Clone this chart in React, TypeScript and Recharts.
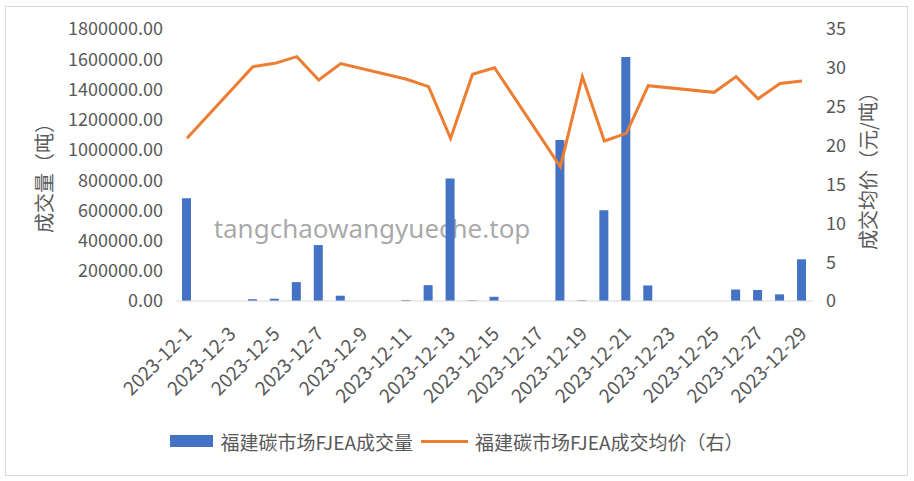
import React from 'react';
import { ComposedChart, Bar, Line, XAxis, YAxis, Legend } from 'recharts';

const dates = [
  '2023-12-1','2023-12-2','2023-12-3','2023-12-4','2023-12-5','2023-12-6','2023-12-7','2023-12-8','2023-12-9','2023-12-10',
  '2023-12-11','2023-12-12','2023-12-13','2023-12-14','2023-12-15','2023-12-16','2023-12-17','2023-12-18','2023-12-19','2023-12-20',
  '2023-12-21','2023-12-22','2023-12-23','2023-12-24','2023-12-25','2023-12-26','2023-12-27','2023-12-28','2023-12-29',
];
const volumes: (number | null)[] = [
  680000, null, null, 12000, 15000, 125000, 370000, 35000, null, null,
  6000, 105000, 810000, 4000, 28000, null, null, 1065000, 5000, 600000,
  1615000, 103000, null, null, null, 76000, 73000, 44000, 276000,
];
const prices: (number | null)[] = [
  20.94, null, null, 30.15, 30.58, 31.44, 28.44, 30.54, null, null,
  28.53, 27.58, 20.94, 29.17, 30.02, null, null, 17.28, 28.87, 20.59,
  21.57, 27.71, null, null, 26.85, 28.87, 26.03, 28.0, 28.31,
];
const leftTicks = [0, 200000, 400000, 600000, 800000, 1000000, 1200000, 1400000, 1600000, 1800000];
const rightTicks = [0, 5, 10, 15, 20, 25, 30, 35];
const volumeName = '福建碳市场FJEA成交量';
const priceName = '福建碳市场FJEA成交均价（右）';
const leftLabel = '成交量（吨）';
const rightLabel = '成交均价（元/吨）';
const watermark = 'tangchaowangyueche.top';

const data = dates.map((d, i) => ({ date: d, volume: volumes[i], price: prices[i] }));

const FONT = '"Noto Sans CJK SC", "Noto Sans", sans-serif';
const TEXT = '#595959';

const XTick = (props: any) => {
  const { x, y, payload } = props;
  return (
    <g transform={`translate(${x + 6},${y + 26})`}>
      <text x={0} y={0} textAnchor="end" transform="rotate(-45)" fill={TEXT} fontSize={19} fontFamily={FONT}>
        {payload.value}
      </text>
    </g>
  );
};

const LegendContent = () => (
  <div style={{ display: 'flex', justifyContent: 'center', alignItems: 'center', height: 30, fontFamily: FONT, fontSize: 19, color: TEXT, paddingRight: 1 }}>
    <span style={{ display: 'inline-block', width: 43, height: 12, background: '#4472C4', marginRight: 8 }} />
    <span style={{ marginRight: 8 }}>{volumeName}</span>
    <span style={{ display: 'inline-block', width: 47, height: 3, background: '#ED7D31', marginRight: 7 }} />
    <span>{priceName}</span>
  </div>
);

export default function App() {
  return (
    <div style={{ position: 'absolute', left: 0, top: 0, width: 914, height: 481, background: '#fff' }}>
      <div style={{ position: 'absolute', left: 5, top: 6, width: 901, height: 468, border: '1px solid #D9D9D9' }} />
      <ComposedChart
        width={914}
        height={481}
        data={data}
        margin={{ top: 29, right: 41, bottom: 25, left: 56 }}
        barSize={9}
      >
        <XAxis
          dataKey="date"
          interval={1}
          height={125}
          tick={<XTick />}
          tickLine={false}
          axisLine={{ stroke: '#D9D9D9', strokeWidth: 1 }}
        />
        <YAxis
          yAxisId="left"
          width={120}
          domain={[0, 1800000]}
          ticks={leftTicks}
          tickFormatter={(v: number) => v.toFixed(2)}
          axisLine={false}
          tickLine={false}
          tickSize={0}
          tickMargin={13}
          tick={{ fill: TEXT, fontSize: 18, fontFamily: FONT }}
        />
        <YAxis
          yAxisId="right"
          orientation="right"
          width={60}
          domain={[0, 35]}
          ticks={rightTicks}
          axisLine={false}
          tickLine={false}
          tickSize={0}
          tickMargin={13}
          tick={{ fill: TEXT, fontSize: 18, fontFamily: FONT }}
        />
        <Legend verticalAlign="bottom" height={30} wrapperStyle={{ left: 0, width: 914 }} content={<LegendContent />} />
        <Bar yAxisId="left" dataKey="volume" name={volumeName} fill="#4472C4" isAnimationActive={false} />
        <Line
          yAxisId="right"
          dataKey="price"
          name={priceName}
          stroke="#ED7D31"
          strokeWidth={3}
          dot={false}
          activeDot={false}
          connectNulls
          type="linear"
          isAnimationActive={false}
        />
        <text transform="translate(43,173) rotate(-90)" textAnchor="middle" dominantBaseline="central" fill={TEXT} fontSize={20} fontFamily={FONT}>
          {leftLabel}
        </text>
        <text transform="translate(867,166) rotate(-90)" textAnchor="middle" dominantBaseline="central" fill={TEXT} fontSize={20} fontFamily={FONT}>
          {rightLabel}
        </text>
        <text x={372} y={238} textAnchor="middle" fill="#9a9a9a" fillOpacity={0.85} fontSize={26} fontFamily='"Noto Sans", sans-serif'>
          {watermark}
        </text>
      </ComposedChart>
    </div>
  );
}
